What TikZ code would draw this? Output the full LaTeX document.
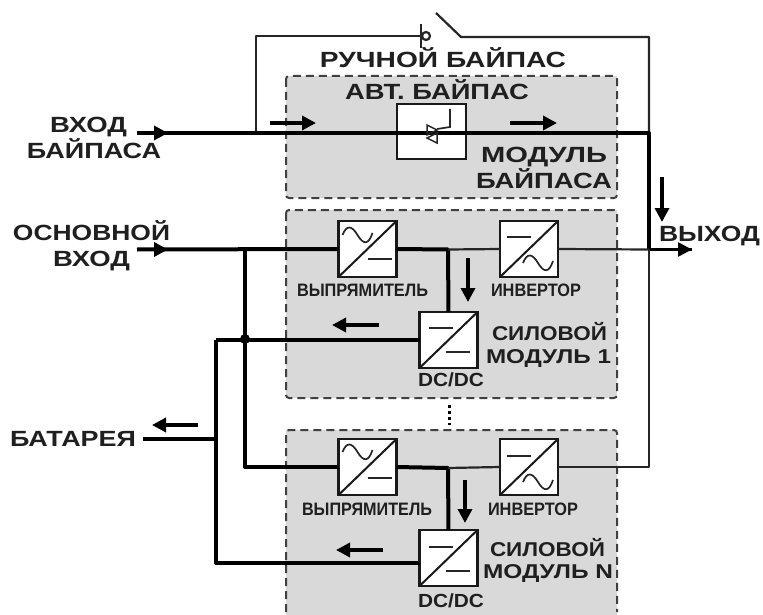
\documentclass[tikz,border=0pt]{standalone}
\usepackage{fontspec}
\usepackage{graphicx}
\setmainfont{Liberation Sans}
\usetikzlibrary{arrows.meta,calc}
\newcommand{\fitw}[2]{\resizebox{#1pt}{\height}{#2}}
\tikzset{
  x=1pt,y=-1pt,
  modulebox/.style={fill=modgray,draw=none},
  modedge/.style={draw=black!75,line width=2pt,dash pattern=on 8pt off 5pt,rounded corners=3pt},
  conv/.style={draw=black!90,fill=white,line width=2.4pt,minimum width=58pt,minimum height=56pt,inner sep=0pt,outer sep=0pt},
  sym/.style={line width=1.7pt,draw=black!85},
  thickw/.style={line width=4pt,draw=black,line join=round},
  thinw/.style={line width=2.2pt,draw=black!85,line join=round},
  flow/.style={line width=3.4pt,draw=black,-{Triangle[length=14pt,width=14pt]}},
  big/.style={inner sep=0pt,anchor=base,font=\fontsize{22}{22}\selectfont\bfseries,text=black!88},
  mid/.style={inner sep=0pt,anchor=base,font=\fontsize{20}{20}\selectfont\bfseries,text=black!88},
  small/.style={inner sep=0pt,anchor=base,font=\fontsize{18}{18}\selectfont\bfseries,text=black!88},
}
\definecolor{modgray}{HTML}{D9D9D9}
\newcommand{\wavesym}[2]{\draw[sym,shift={($(#1)+(#2)$)}] (0,0) .. controls (4,-10) and (9,-10) .. (15,0) .. controls (21,10) and (26,10) .. (30,-2);}
\newcommand{\dashsym}[2]{\draw[sym] ($(#1)+(#2)$) -- +(24,0);}
\begin{document}
\begin{tikzpicture}
\useasboundingbox (0,0) rectangle (763,615);
% module backgrounds
\fill[modulebox] (286,76) rectangle (617,198);
\fill[modulebox] (286,210) rectangle (617,398);
\fill[modulebox] (286,430) rectangle (617,615);
\draw[modedge] (286,76) rectangle (617,198);
\draw[modedge] (286,210) rectangle (617,398);
\draw[modedge] (286,612) -- (286,430) -- (617,430) -- (617,612);
% blocks
\node[conv,minimum width=69pt,minimum height=55pt] (sts) at (431.5,131.5) {};
\node[conv] (r1) at (367.5,249) {};
\node[conv] (i1) at (529,249) {};
\node[conv] (d1) at (448.5,340) {};
\node[conv] (rN) at (367.5,467) {};
\node[conv] (iN) at (529,467) {};
\node[conv] (dN) at (448.5,558) {};
% converter symbols
\foreach \n in {r1,i1,d1,rN,iN,dN}{\draw[line width=2pt,draw=black!90] (\n.south west) -- (\n.north east);}
\wavesym{r1.center}{-25,-14}
\dashsym{r1.center}{0,10}
\dashsym{i1.center}{-22,-12}
\wavesym{i1.center}{-6,14}
\dashsym{d1.center}{-20,-12}
\dashsym{d1.center}{-3,12}
\wavesym{rN.center}{-25,-15}
\dashsym{rN.center}{0,11}
\dashsym{iN.center}{-22,-11}
\wavesym{iN.center}{-6,15}
\dashsym{dN.center}{-20,-11}
\dashsym{dN.center}{-3,13}
% coordinates
\coordinate (byin) at (137,133);
\coordinate (mainin) at (137,249.5);
\coordinate (outT) at (649,133);
\coordinate (outM) at (649,249.5);
\coordinate (outB) at (649,467);
\coordinate (outEnd) at (692,249.5);
\coordinate (manL) at (256,133);
\coordinate (manUL) at (256,36);
\coordinate (manC) at (421,36);
\coordinate (manK) at (461,37);
\coordinate (manUR) at (649,37);
\coordinate (lever) at (436,13);
\coordinate (j1) at (245,249.5);
\coordinate (j2) at (245,467);
\coordinate (b1) at (216,340);
\coordinate (b2) at (216,563);
\coordinate (j3) at (245,339);
\coordinate (batJ) at (216,439);
\coordinate (batEnd) at (143,439);
\coordinate (t1) at (448,249.5);
\coordinate (tN) at (448,468);
% manual bypass
\draw[thinw] (manL) -- (manUL) -- (manC);
\draw[thinw] (421,24) -- (421,48);
\draw[thinw] (426,36) circle (4);
\draw[thinw] (lever) -- (manK) -- (manUR) -- (outT);
% bypass line
\draw[thickw] (byin) -- (outT) -- (outM);
% thyristor
\draw[sym,line width=1.5pt] (427,125) -- (427,135) -- (437,130) -- cycle;
\draw[sym,line width=1.5pt] (437,133) -- (437,143) -- (427,138) -- cycle;
\draw[sym] (450,109) -- (450,127) -- (437,129);
% power module 1
\draw[thickw] (mainin) -- (r1.west);
\draw[thickw] (r1.east) -- (t1) -- (d1.north);
\draw[thinw] (t1) -- (i1.west);
\draw[thinw] (i1.east) -- (outM);
\draw[thickw,line width=2.6pt] (outM) -- (outEnd);
\draw[thickw] (b1) -- (d1.west);
% power module N
\draw[thickw] (j1) -- (j2) -- (rN.west);
\draw[thickw] (rN.east) -- (tN) -- (dN.north);
\draw[thinw] (tN) -- (iN.west);
\draw[thinw] (iN.east) -- (outB) -- (outM);
\draw[thickw] (b1) -- (b2) -- ([yshift=-5pt]dN.west);
\draw[line width=3.4pt] (batEnd) -- (batJ);
\fill (j3) circle (5);
% flow arrows
\draw[flow] (137,133) -- (168,133);
\draw[flow] (137,249.5) -- (168,249.5);
\draw[flow,line width=2.6pt] (660,249.5) -- (692,249.5);
\draw[flow] (270,123) -- (316,123);
\draw[flow] (510,123) -- (557,123);
\draw[flow] (662,177) -- (662,222);
\draw[flow] (468,258) -- (468,302);
\draw[flow] (465,480) -- (465,523);
\draw[flow] (379,325) -- (332,325);
\draw[flow] (383,550) -- (336,550);
\draw[flow] (198,425) -- (152,425);
% ellipsis
\draw[line width=3pt,dash pattern=on 3pt off 3pt] (449,405) -- (449,425);
% labels
\node[big] (lman) at (443,68) {\fitw{246}{РУЧНОЙ БАЙПАС}};
\node[big] (lauto) at (437,100) {\fitw{184}{АВТ. БАЙПАС}};
\node[big] (lmod1) at (544,163) {\fitw{126}{МОДУЛЬ}};
\node[big] (lmod2) at (544,189) {\fitw{136}{БАЙПАСА}};
\node[big] (lin1) at (88.5,133) {\fitw{77}{ВХОД}};
\node[big] (lin2) at (94,159) {\fitw{134}{БАЙПАСА}};
\node[big] (lmain1) at (91.5,240) {\fitw{157}{ОСНОВНОЙ}};
\node[big] (lmain2) at (91.5,266) {\fitw{77}{ВХОД}};
\node[big] (lout) at (709.5,241) {\fitw{101}{ВЫХОД}};
\node[big] (lbat) at (73,446) {\fitw{126}{БАТАРЕЯ}};
\node[small] (lr1) at (362.5,296) {\fitw{131}{ВЫПРЯМИТЕЛЬ}};
\node[small] (li1) at (536,296) {\fitw{90}{ИНВЕРТОР}};
\node[small] (lrN) at (367,515) {\fitw{130}{ВЫПРЯМИТЕЛЬ}};
\node[small] (liN) at (533,515) {\fitw{90}{ИНВЕРТОР}};
\node[mid] (lp1) at (549.5,340) {\fitw{115}{СИЛОВОЙ}};
\node[mid] (lp2) at (548.5,363) {\fitw{125}{МОДУЛЬ 1}};
\node[mid] (lpN) at (547.5,556) {\fitw{115}{СИЛОВОЙ}};
\node[mid] (lpM) at (548,578) {\fitw{130}{МОДУЛЬ N}};
\node[small,font=\fontsize{19}{19}\selectfont\bfseries] (ld1) at (451,386) {\fitw{66}{DC/DC}};
\node[small,font=\fontsize{19}{19}\selectfont\bfseries] (ldN) at (451,607) {\fitw{66}{DC/DC}};
\end{tikzpicture}
\end{document}
